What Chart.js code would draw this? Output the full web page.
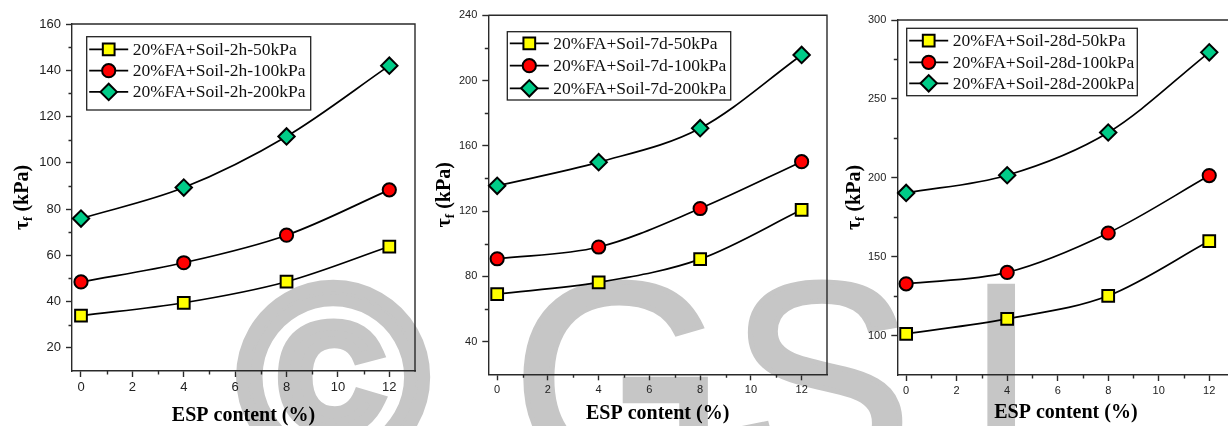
<!DOCTYPE html>
<html><head><meta charset="utf-8">
<script src="https://cdn.jsdelivr.net/npm/chart.js@4.4.1/dist/chart.umd.min.js"></script>
<style>
html,body{margin:0;padding:0;width:1228px;height:426px;overflow:hidden;background:#fff;position:relative}
.wm{position:absolute;font-family:'Liberation Sans';color:#c6c6c6;line-height:1;white-space:nowrap;z-index:0;-webkit-text-stroke:5px #c6c6c6}
canvas{position:absolute;top:0;z-index:1}
</style></head><body>
<div class="wm" style="left:238px;top:248px;font-size:258px;font-weight:bold;-webkit-text-stroke:12px #c6c6c6">©</div>
<div class="wm" style="left:512px;top:241px;font-size:275px">G</div>
<div class="wm" style="left:729px;top:241px;font-size:275px">S</div>
<div class="wm" style="left:963px;top:241px;font-size:275px;-webkit-text-stroke:2px #c6c6c6">I</div>
<canvas id="c1" width="420" height="426" style="left:0px"></canvas>
<canvas id="c2" width="420" height="426" style="left:410px"></canvas>
<canvas id="c3" width="420" height="426" style="left:820px"></canvas>
<script>
// ---------------- data ----------------
const espContent = [0, 4, 8, 12];
const xTickValues = [0, 2, 4, 6, 8, 10, 12];
const xMinorValues = [1, 3, 5, 7, 9, 11];

const names2h = ['20%FA+Soil-2h-50kPa', '20%FA+Soil-2h-100kPa', '20%FA+Soil-2h-200kPa'];
const tau2h_50 = [33.9, 39.5, 48.6, 63.8];
const tau2h_100 = [48.5, 56.8, 68.7, 88.3];
const tau2h_200 = [75.9, 89.3, 111.4, 142.0];
const yTicks2h = [20, 40, 60, 80, 100, 120, 140, 160];
const yMinor2h = [30, 50, 70, 90, 110, 130, 150];

const names7d = ['20%FA+Soil-7d-50kPa', '20%FA+Soil-7d-100kPa', '20%FA+Soil-7d-200kPa'];
const tau7d_50 = [69.2, 76.3, 90.6, 120.8];
const tau7d_100 = [90.8, 98.0, 121.6, 150.3];
const tau7d_200 = [135.5, 150.0, 170.8, 215.7];
const yTicks7d = [40, 80, 120, 160, 200, 240];
const yMinor7d = [60, 100, 140, 180, 220];

const names28d = ['20%FA+Soil-28d-50kPa', '20%FA+Soil-28d-100kPa', '20%FA+Soil-28d-200kPa'];
const tau28d_50 = [101.1, 110.6, 125.2, 159.9];
const tau28d_100 = [132.8, 140.0, 165.0, 201.4];
const tau28d_200 = [190.4, 201.6, 228.7, 279.5];
const yTicks28d = [100, 150, 200, 250, 300];
const yMinor28d = [125, 175, 225, 275];

const xTitle = 'ESP content (%)';
const yTitleParts = ['τ', 'f', ' (kPa)'];

// ---------------- styles ----------------
const AXIS = '#2a2a2a', AXW = 1.4;
const markerStyles = [
  {pointStyle: 'rect', radius: 8.3, fill: '#ffff00'},
  {pointStyle: 'circle', radius: 6.6, fill: '#ff0000'},
  {pointStyle: 'rectRot', radius: 8.2, fill: '#00cc88'}
];

const panels = [
  {id: 'c1', names: names2h, series: [tau2h_50, tau2h_100, tau2h_200], yMin: 10, yMax: 160,
   yTicks: yTicks2h, yMinor: yMinor2h, pad: {top: 24, right: 5, left: 0, bottom: 0},
   yW: 72, xH: 55, tickFont: 13, yTitleX: 22.5, xTitlePad: 0,
   legend: {dx: 14.7, dy: 12.7, w: 224, h: 73.3, rows: [12.6, 34, 55.2]}},
  {id: 'c2', names: names7d, series: [tau7d_50, tau7d_100, tau7d_200], yMin: 20, yMax: 240,
   yTicks: yTicks7d, yMinor: yMinor7d, pad: {top: 15.3, right: 3, left: 0, bottom: 0},
   yW: 78.3, xH: 51.7, tickFont: 11, yTitleX: 35, xTitlePad: 2,
   legend: {dx: 19, dy: 16.4, w: 223.4, h: 68.3, rows: [11.6, 34, 56.6]}},
  {id: 'c3', names: names28d, series: [tau28d_50, tau28d_100, tau28d_200], yMin: 75, yMax: 300,
   yTicks: yTicks28d, yMinor: yMinor28d, pad: {top: 20, right: 5.5, left: 0, bottom: 0},
   yW: 77.3, xH: 51, tickFont: 11, yTitleX: 35, xTitlePad: 3,
   legend: {dx: 9.4, dy: 8.3, w: 230.6, h: 67.4, rows: [12.4, 34, 55]}}
];

function drawMarker(ctx, ms, x, y) {
  ctx.fillStyle = ms.fill; ctx.strokeStyle = '#000'; ctx.lineWidth = 2;
  if (Chart.helpers && Chart.helpers.drawPoint) {
    Chart.helpers.drawPoint(ctx, {pointStyle: ms.pointStyle, radius: ms.radius, rotation: 0, borderWidth: 2}, x, y);
    return;
  }
  ctx.beginPath();
  const r = ms.radius;
  if (ms.pointStyle === 'circle') ctx.arc(x, y, r, 0, Math.PI * 2);
  else if (ms.pointStyle === 'rect') { const h = r * Math.SQRT1_2; ctx.rect(x - h, y - h, 2 * h, 2 * h); }
  else { ctx.moveTo(x - r, y); ctx.lineTo(x, y - r); ctx.lineTo(x + r, y); ctx.lineTo(x, y + r); ctx.closePath(); }
  ctx.fill(); ctx.stroke();
}

const deco = {
  id: 'deco',
  afterDraw(chart, args, o) {
    const ctx = chart.ctx, a = chart.chartArea, xs = chart.scales.x, ys = chart.scales.y;
    ctx.save();
    // frame top/right
    ctx.strokeStyle = AXIS; ctx.lineWidth = AXW;
    ctx.beginPath();
    ctx.moveTo(a.left, a.top); ctx.lineTo(a.right, a.top); ctx.lineTo(a.right, a.bottom + 0.7);
    ctx.stroke();
    // minor ticks
    ctx.beginPath();
    o.xMinor.forEach(v => { const p = Math.round(xs.getPixelForValue(v)) + 0.5; ctx.moveTo(p, a.bottom); ctx.lineTo(p, a.bottom + 3.5); });
    o.yMinor.forEach(v => { const p = Math.round(ys.getPixelForValue(v)) + 0.5; ctx.moveTo(a.left, p); ctx.lineTo(a.left - 3.5, p); });
    ctx.stroke();
    // y title with subscript
    ctx.save();
    ctx.translate(o.yTitleX, (a.top + a.bottom) / 2);
    ctx.rotate(-Math.PI / 2);
    ctx.fillStyle = '#000'; ctx.textBaseline = 'middle'; ctx.textAlign = 'left';
    const f1 = "bold 20px 'Liberation Serif'", f2 = "bold 13px 'Liberation Serif'";
    const parts = [[yTitleParts[0], f1, 0], [yTitleParts[1], f2, 6], [yTitleParts[2], f1, 0]];
    let tot = 0;
    parts.forEach(p => { ctx.font = p[1]; p.push(ctx.measureText(p[0]).width); tot += p[3]; });
    let cx = -tot / 2;
    parts.forEach(p => { ctx.font = p[1]; ctx.fillText(p[0], cx, p[2]); cx += p[3]; });
    ctx.restore();
    // legend
    const L = o.legend, bx = a.left + L.dx, by = a.top + L.dy;
    ctx.fillStyle = '#fff'; ctx.fillRect(bx, by, L.w, L.h);
    ctx.strokeStyle = '#222'; ctx.lineWidth = 1.3; ctx.strokeRect(bx, by, L.w, L.h);
    chart.data.datasets.forEach((ds, i) => {
      const ry = by + L.rows[i];
      ctx.strokeStyle = '#000'; ctx.lineWidth = 1.7;
      ctx.beginPath(); ctx.moveTo(bx + 2.5, ry); ctx.lineTo(bx + 41.5, ry); ctx.stroke();
      drawMarker(ctx, markerStyles[i], bx + 22, ry);
      ctx.fillStyle = '#111'; ctx.font = "17.5px 'Liberation Serif'";
      ctx.textBaseline = 'middle'; ctx.textAlign = 'left';
      ctx.fillText(ds.label, bx + 46, ry + 1);
    });
    ctx.restore();
  }
};

panels.forEach(P => {
  const datasets = P.series.map((vals, i) => ({
    label: P.names[i],
    data: espContent.map((x, j) => ({x: x, y: vals[j]})),
    borderColor: '#000', borderWidth: 1.7,
    cubicInterpolationMode: 'monotone',
    pointStyle: markerStyles[i].pointStyle, pointRadius: markerStyles[i].radius,
    pointBackgroundColor: markerStyles[i].fill, pointBorderColor: '#000', pointBorderWidth: 2,
    clip: false
  }));
  new Chart(document.getElementById(P.id), {
    type: 'line',
    data: {datasets},
    plugins: [deco],
    options: {
      responsive: false, animation: false, devicePixelRatio: 1,
      layout: {padding: P.pad, autoPadding: false},
      plugins: {
        legend: {display: false}, tooltip: {enabled: false},
        deco: {xMinor: xMinorValues, yMinor: P.yMinor, yTitleX: P.yTitleX, legend: P.legend}
      },
      scales: {
        x: {
          type: 'linear', min: -0.35, max: 13,
          afterBuildTicks: s => { s.ticks = xTickValues.map(v => ({value: v})); },
          afterFit: s => { s.height = P.xH; s.paddingLeft = 0; s.paddingRight = 0; },
          grid: {display: true, drawOnChartArea: false, drawTicks: true, tickLength: 6, tickColor: AXIS, tickWidth: AXW},
          border: {display: true, color: AXIS, width: AXW},
          ticks: {font: {family: 'Liberation Sans', size: P.tickFont}, color: '#222', padding: 3, maxRotation: 0,
                  callback: v => String(v)},
          title: {display: true, text: xTitle, color: '#000',
                  font: {family: 'Liberation Serif', size: 20, weight: 'bold', lineHeight: 1},
                  padding: {top: 0, bottom: P.xTitlePad}}
        },
        y: {
          type: 'linear', min: P.yMin, max: P.yMax,
          afterBuildTicks: s => { s.ticks = P.yTicks.map(v => ({value: v})); },
          afterFit: s => { s.width = P.yW; s.paddingTop = 0; s.paddingBottom = 0; },
          grid: {display: true, drawOnChartArea: false, drawTicks: true, tickLength: 6, tickColor: AXIS, tickWidth: AXW},
          border: {display: true, color: AXIS, width: AXW},
          ticks: {font: {family: 'Liberation Sans', size: P.tickFont}, color: '#222', padding: 5,
                  callback: v => String(v)},
          title: {display: false}
        }
      }
    }
  });
});
</script>
</body></html>
